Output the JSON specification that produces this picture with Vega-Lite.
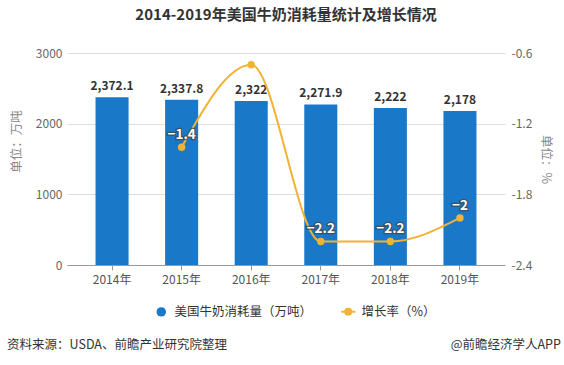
{
  "$schema": "https://vega.github.io/schema/vega-lite/v6.json",
  "width": 438,
  "height": 212,
  "autosize": {"type": "none"},
  "padding": {"left": 67, "top": 53, "right": 59, "bottom": 100},
  "background": "white",
  "config": {
    "font": "Noto Sans CJK SC",
    "view": {"stroke": null},
    "axis": {"labelFont": "Noto Sans CJK SC", "titleFont": "Noto Sans CJK SC"}
  },
  "title": {
    "text": "2014-2019年美国牛奶消耗量统计及增长情况",
    "fontSize": 15,
    "fontWeight": "bold",
    "color": "#333333",
    "anchor": "middle",
    "offset": 24
  },
  "data": {
    "values": [
      {"year": "2014年", "consumption": 2372.1, "growth": null},
      {"year": "2015年", "consumption": 2337.8, "growth": -1.4},
      {"year": "2016年", "consumption": 2322, "growth": -0.7},
      {"year": "2017年", "consumption": 2271.9, "growth": -2.2},
      {"year": "2018年", "consumption": 2222, "growth": -2.2},
      {"year": "2019年", "consumption": 2178, "growth": -2.0}
    ]
  },
  "layer": [
    {
      "layer": [
        {
          "mark": {"type": "bar"},
          "encoding": {
            "x": {
              "field": "year",
              "type": "nominal",
              "sort": null,
              "scale": {"paddingInner": 0.525, "paddingOuter": 0.41},
              "axis": {
                "title": null,
                "labelAngle": 0,
                "labelFontSize": 12,
                "labelColor": "#555555",
                "labelPadding": 4,
                "tickSize": 5,
                "tickColor": "#999999",
                "domainColor": "#999999",
                "bandPosition": 0.5,
                "grid": false
              }
            },
            "y": {
              "field": "consumption",
              "type": "quantitative",
              "scale": {"domain": [0, 3000]},
              "axis": {
                "title": "单位：万吨",
                "titleFontSize": 12.5,
                "titleFontWeight": "normal",
                "titleColor": "#888888",
                "titlePadding": 12,
                "titleY": 88,
                "values": [0, 1000, 2000, 3000],
                "format": "d",
                "labelFontSize": 12,
                "labelColor": "#666666",
                "labelPadding": 5,
                "ticks": false,
                "domain": false,
                "grid": true,
                "gridColor": "#dddddd"
              }
            },
            "color": {
              "datum": "美国牛奶消耗量（万吨）",
              "type": "nominal",
              "scale": {
                "domain": ["美国牛奶消耗量（万吨）", "增长率（%）"],
                "range": ["#1a78c8", "#f2b233"]
              },
              "legend": {
                "orient": "none",
                "legendX": 88,
                "legendY": 252,
                "direction": "horizontal",
                "title": null,
                "labelFontSize": 12.5,
                "labelColor": "#333333",
                "labelOffset": 7,
                "columnPadding": 24,
                "symbolSize": 90,
                "encode": {
                  "symbols": {
                    "update": {
                      "shape": {"signal": "datum.value == '增长率（%）' ? 'M-1,0L1,0M0.42,0A0.42,0.42,0,1,1,-0.42,0A0.42,0.42,0,1,1,0.42,0' : 'circle'"},
                      "size": {"signal": "datum.value == '增长率（%）' ? 200 : 90"},
                      "fill": {"signal": "datum.value == '增长率（%）' ? '#f2b233' : '#1a78c8'"},
                      "stroke": {"signal": "datum.value == '增长率（%）' ? '#f2b233' : '#1a78c8'"},
                      "strokeWidth": {"signal": "datum.value == '增长率（%）' ? 2 : 0"},
                      "opacity": {"value": 1},
                      "fillOpacity": {"value": 1}
                    }
                  }
                }
              }
            }
          }
        },
        {
          "mark": {"type": "text", "baseline": "bottom", "dy": -4, "fontSize": 12, "fontWeight": "bold", "color": "#333333"},
          "encoding": {
            "x": {"field": "year", "type": "nominal", "sort": null},
            "y": {"field": "consumption", "type": "quantitative"},
            "text": {"field": "consumption", "type": "quantitative", "format": ","}
          }
        },
        {
          "data": {"values": [{"t": "资料来源：USDA、前瞻产业研究院整理"}]},
          "mark": {"type": "text", "align": "left", "baseline": "middle", "dx": -105, "fontSize": 12.5, "color": "#333333"},
          "encoding": {
            "x": {"datum": "2014年", "type": "nominal"},
            "y": {"datum": -1132, "type": "quantitative"},
            "text": {"field": "t"}
          }
        },
        {
          "data": {"values": [{"t": "@前瞻经济学人APP"}]},
          "mark": {"type": "text", "align": "right", "baseline": "middle", "dx": 101, "fontSize": 12.5, "color": "#333333"},
          "encoding": {
            "x": {"datum": "2019年", "type": "nominal"},
            "y": {"datum": -1132, "type": "quantitative"},
            "text": {"field": "t"}
          }
        }
      ]
    },
    {
      "transform": [{"filter": "datum.growth != null"}],
      "layer": [
        {
          "mark": {"type": "line", "interpolate": "monotone", "strokeWidth": 2},
          "encoding": {
            "x": {"field": "year", "type": "nominal", "sort": null},
            "y": {
              "field": "growth",
              "type": "quantitative",
              "scale": {"domain": [-2.4, -0.6]},
              "axis": {
                "orient": "right",
                "title": "单位：%",
                "titleFontSize": 12.5,
                "titleFontWeight": "normal",
                "titleColor": "#888888",
                "titlePadding": 7,
                "values": [-2.4, -1.8, -1.2, -0.6],
                "labelExpr": "replace(format(datum.value, '.1f'), '−', '-')",
                "labelFontSize": 12,
                "labelColor": "#666666",
                "labelPadding": 6,
                "ticks": false,
                "domain": false,
                "grid": false
              }
            },
            "color": {"datum": "增长率（%）", "type": "nominal"}
          }
        },
        {
          "mark": {"type": "point", "filled": true, "size": 55, "opacity": 1},
          "encoding": {
            "x": {"field": "year", "type": "nominal", "sort": null},
            "y": {"field": "growth", "type": "quantitative"},
            "color": {"datum": "增长率（%）", "type": "nominal"}
          }
        },
        {
          "transform": [{"filter": "datum.year != '2016年'"}],
          "mark": {"type": "text", "baseline": "bottom", "dy": -5, "fontSize": 13.5, "fontWeight": "bold", "stroke": "#444444", "strokeWidth": 2.5, "strokeOpacity": 0.75, "fill": "#444444"},
          "encoding": {
            "x": {"field": "year", "type": "nominal", "sort": null},
            "y": {"field": "growth", "type": "quantitative"},
            "text": {"field": "growth", "type": "quantitative", "format": ""}
          }
        },
        {
          "transform": [{"filter": "datum.year != '2016年'"}],
          "mark": {"type": "text", "baseline": "bottom", "dy": -5, "fontSize": 13.5, "fontWeight": "bold", "fill": "#ffffff"},
          "encoding": {
            "x": {"field": "year", "type": "nominal", "sort": null},
            "y": {"field": "growth", "type": "quantitative"},
            "text": {"field": "growth", "type": "quantitative", "format": ""}
          }
        }
      ]
    }
  ],
  "resolve": {"scale": {"y": "independent"}}
}
